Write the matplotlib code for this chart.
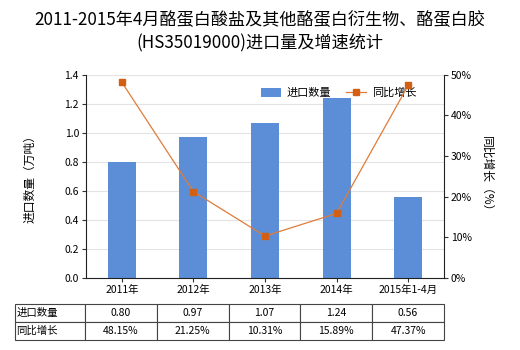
import numpy as np
import matplotlib.pyplot as plt

plt.rcParams['font.family'] = ['Noto Sans CJK SC', 'DejaVu Sans']

# import volume and year-on-year growth
years = ['2011年', '2012年', '2013年', '2014年', '2015年1-4月']
qty = [0.80, 0.97, 1.07, 1.24, 0.56]
growth = [48.15, 21.25, 10.31, 15.89, 47.37]
qty_txt = ['0.80', '0.97', '1.07', '1.24', '0.56']
growth_txt = ['48.15%', '21.25%', '10.31%', '15.89%', '47.37%']

bar_c = '#5b8ed6'
line_c = '#e07b39'
mark_c = '#d35f13'

fig = plt.figure(figsize=(5.2, 3.5), dpi=100)
ax = fig.add_axes([0.1654, 0.2057, 0.6884, 0.5809])
x = np.arange(len(years))

b = ax.bar(x, qty, width=0.39, color=bar_c, zorder=2, label='进口数量')
ax.set_xlim(-0.5, len(years) - 0.5)
ax.set_ylim(0, 1.4)
ax.set_yticks(np.arange(0, 1.41, 0.2))
ax.set_yticklabels(['%.1f' % v for v in np.arange(0, 1.41, 0.2)])
ax.yaxis.grid(True, color='#e3e3e3', lw=0.8, zorder=0)
ax.set_axisbelow(True)
ax.set_xticks(x)
ax.set_xticklabels(years)
ax.tick_params(labelsize=7.5, length=3, width=0.8, color='#333333', pad=2)
for s in ['top', 'right']:
    ax.spines[s].set_visible(False)
for s in ['left', 'bottom']:
    ax.spines[s].set_color('#222222')
ax.set_ylabel('进口数量（万吨）', fontsize=8.5, labelpad=20)

ax2 = ax.twinx()
ln, = ax2.plot(x, growth, color=line_c, lw=0.9, marker='s', ms=4.5,
               mfc=mark_c, mec=mark_c, zorder=3, label='同比增长')
ax2.set_ylim(0, 50)
ax2.set_yticks(np.arange(0, 51, 10))
ax2.set_yticklabels(['%d%%' % v for v in range(0, 51, 10)])
ax2.tick_params(labelsize=7.5, length=3, width=0.8, color='#333333', pad=2)
for s in ['top', 'left', 'bottom']:
    ax2.spines[s].set_visible(False)
ax2.spines['right'].set_color('#222222')
ax2.set_ylabel('同比增长（%）', fontsize=8.5, rotation=-90, labelpad=15)

ax.legend([b, ln], ['进口数量', '同比增长'], loc='upper left',
          bbox_to_anchor=(0.46, 0.985), ncol=2, frameon=False, fontsize=8,
          handlelength=1.8, handleheight=0.9, handletextpad=0.5,
          columnspacing=1.4)

fig.text(0.5, 0.942, '2011-2015年4月酪蛋白酸盐及其他酪蛋白衍生物、酪蛋白胶',
         ha='center', va='center', fontsize=12.3)
fig.text(0.5, 0.877, '(HS35019000)进口量及增速统计', ha='center', va='center',
         fontsize=12.3)

cells = [['进口数量'] + qty_txt, ['同比增长'] + growth_txt]
tab = ax.table(cellText=cells, cellLoc='center',
               colWidths=[70] + [72] * 5,
               bbox=[-0.198, -0.305, 1.198, 0.177])
tab.auto_set_font_size(False)
tab.set_fontsize(7.5)
for (r, c), cell in tab.get_celld().items():
    cell.set_edgecolor('#444444')
    cell.set_linewidth(0.8)
    if c == 0:
        cell.set_text_props(ha='left')
        cell.PAD = 0.02

fig.savefig('out.png', dpi=100)
